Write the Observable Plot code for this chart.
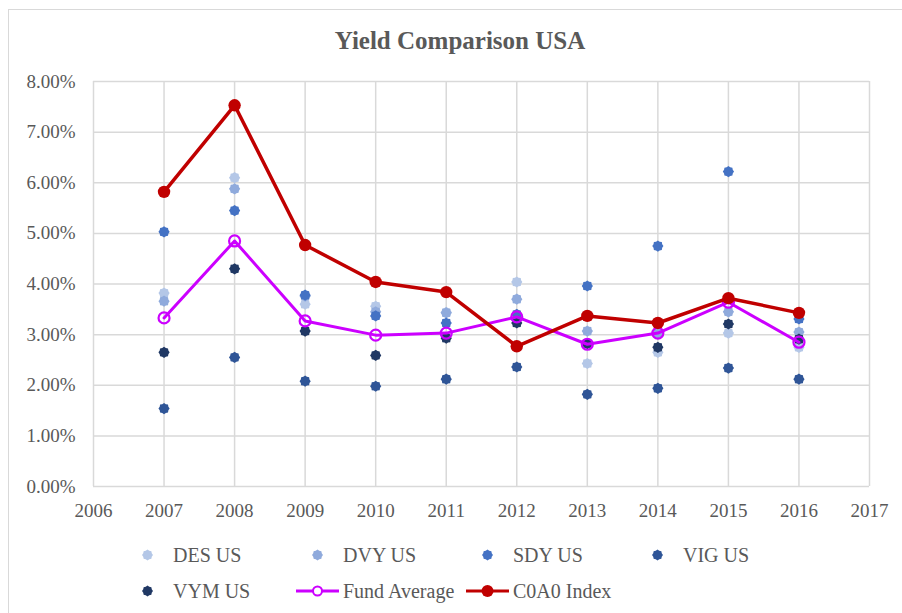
<!DOCTYPE html>
<html><head><meta charset="utf-8">
<script src="https://cdn.jsdelivr.net/npm/d3@7"></script>
<script src="https://cdn.jsdelivr.net/npm/@observablehq/plot@0.6"></script>
<style>
body{margin:0;background:#fff;overflow:hidden;font-family:"Liberation Serif","Times New Roman",serif;}
#wrap{position:relative;width:902px;height:613px;overflow:hidden;background:#fff;}
#border{position:absolute;left:8px;top:9px;width:1000px;height:1000px;border-left:1.5px solid #d9d9d9;border-top:1.5px solid #d9d9d9;box-sizing:border-box;}
#title{position:absolute;left:0;top:25px;width:920px;text-align:center;font-weight:bold;font-size:25px;color:#595959;line-height:32px;}
#chart{position:absolute;left:0;top:0;}
.lg{position:absolute;display:flex;align-items:center;font-size:20px;color:#595959;white-space:nowrap;height:30px;}
.lg svg{display:block;margin-right:4px;}
</style></head>
<body>
<div id="wrap">
  <div id="border"></div>
  <div id="title">Yield Comparison USA</div>
  <div id="chart"></div>
  <div id="legend"></div>
</div>
<script>
// ---- data (yield, %) ----
const years   = [2007, 2008, 2009, 2010, 2011, 2012, 2013, 2014, 2015, 2016];
const desUS   = [3.82, 6.10, 3.60, 3.56, 3.44, 4.04, 2.43, 2.65, 3.03, 2.75];
const dvyUS   = [3.66, 5.88, 3.76, 3.45, 3.43, 3.70, 3.07, 3.03, 3.45, 3.05];
const sdyUS   = [5.03, 5.45, 3.78, 3.37, 3.23, 3.40, 3.96, 4.75, 6.22, 3.31];
const vigUS   = [1.54, 2.55, 2.08, 1.98, 2.12, 2.36, 1.82, 1.94, 2.34, 2.12];
const vymUS   = [2.65, 4.30, 3.07, 2.59, 2.93, 3.23, 2.82, 2.75, 3.21, 2.91];
const fundAvg = [3.33, 4.85, 3.27, 2.99, 3.03, 3.35, 2.81, 3.03, 3.64, 2.85];
const c0a0    = [5.82, 7.53, 4.77, 4.04, 3.84, 2.77, 3.37, 3.23, 3.72, 3.43];
const xTicks  = [2006, 2007, 2008, 2009, 2010, 2011, 2012, 2013, 2014, 2015, 2016, 2017];
const yTicks  = [0, 1, 2, 3, 4, 5, 6, 7, 8];
const seriesNames = ["DES US", "DVY US", "SDY US", "VIG US", "VYM US", "Fund Average", "C0A0 Index"];

const scatterSeries = [
  {name: "DES US", values: desUS, color: "#b4c7e7"},
  {name: "DVY US", values: dvyUS, color: "#8faadc"},
  {name: "SDY US", values: sdyUS, color: "#4472c4"},
  {name: "VIG US", values: vigUS, color: "#2f5597"},
  {name: "VYM US", values: vymUS, color: "#203864"}
];
const avgColor = "#cc00ff", idxColor = "#c00000";

const rows = vals => years.map((y, i) => ({year: y, v: vals[i]}));

const gear = {draw(ctx, size) {
  const r = Math.sqrt(size / Math.PI), n = 8;
  for (let i = 0; i < 2 * n; i++) {
    const a = i * Math.PI / n, rr = i % 2 ? r * 0.84 : r;
    const x = rr * Math.sin(a), y = -rr * Math.cos(a);
    i ? ctx.lineTo(x, y) : ctx.moveTo(x, y);
  }
  ctx.closePath();
}};

const marks = [
  Plot.ruleX(xTicks, {stroke: "#d9d9d9", strokeWidth: 1.5}),
  Plot.ruleY(yTicks, {stroke: "#d9d9d9", strokeWidth: 1.5}),
  Plot.axisX({ticks: xTicks, tickSize: 0, tickPadding: 17, tickFormat: d => String(d), label: null}),
  Plot.axisY({ticks: yTicks, tickSize: 0, tickPadding: 18, tickFormat: d => d.toFixed(2) + "%", label: null})
];
for (const s of scatterSeries) {
  marks.push(Plot.dot(rows(s.values), {x: "year", y: "v", r: 5.6, symbol: gear, fill: s.color, stroke: "none"}));
}
marks.push(Plot.line(rows(fundAvg), {x: "year", y: "v", stroke: avgColor, strokeWidth: 3}));
marks.push(Plot.dot(rows(fundAvg), {x: "year", y: "v", r: 5.5, stroke: avgColor, strokeWidth: 2.2, fill: "none"}));
marks.push(Plot.line(rows(c0a0), {x: "year", y: "v", stroke: idxColor, strokeWidth: 3.5}));
marks.push(Plot.dot(rows(c0a0), {x: "year", y: "v", r: 6.2, fill: idxColor, stroke: "none"}));

const chart = Plot.plot({
  width: 902, height: 520,
  marginTop: 81, marginBottom: 34, marginLeft: 93, marginRight: 33,
  x: {domain: [2006, 2017]},
  y: {domain: [0, 8]},
  style: {fontFamily: "'Liberation Serif', 'Times New Roman', serif", fontSize: "19px", color: "#595959", background: "transparent", overflow: "visible"},
  marks
});
document.getElementById("chart").appendChild(chart);

// ---- legend ----
const legend = document.getElementById("legend");
const colX = [126, 296, 466, 636];
const rowY = [540, 576];
const items = [
  ...scatterSeries.map(s => ({name: s.name, type: "gear", color: s.color})),
  {name: seriesNames[5], type: "hollow", color: avgColor},
  {name: seriesNames[6], type: "solid", color: idxColor}
];
items.forEach((it, k) => {
  const div = document.createElement("div");
  div.className = "lg";
  div.style.left = colX[k % 4] + "px";
  div.style.top = rowY[Math.floor(k / 4)] + "px";
  const svg = d3.create("svg").attr("width", 43).attr("height", 20);
  if (it.type === "gear") {
    const p = d3.path(); gear.draw(p, 30 * Math.PI);
    svg.append("path").attr("d", p.toString()).attr("transform", "translate(21.5,10)").attr("fill", it.color);
  } else {
    svg.append("line").attr("x1", 0).attr("x2", 43).attr("y1", 10).attr("y2", 10)
      .attr("stroke", it.color).attr("stroke-width", 3);
    svg.append("circle").attr("cx", 21.5).attr("cy", 10).attr("r", it.type === "solid" ? 6 : 4.5)
      .attr("fill", it.type === "solid" ? it.color : "#fff").attr("stroke", it.color).attr("stroke-width", it.type === "solid" ? 0 : 2);
  }
  div.appendChild(svg.node());
  const span = document.createElement("span");
  span.textContent = it.name;
  div.appendChild(span);
  legend.appendChild(div);
});
</script>
</body></html>
